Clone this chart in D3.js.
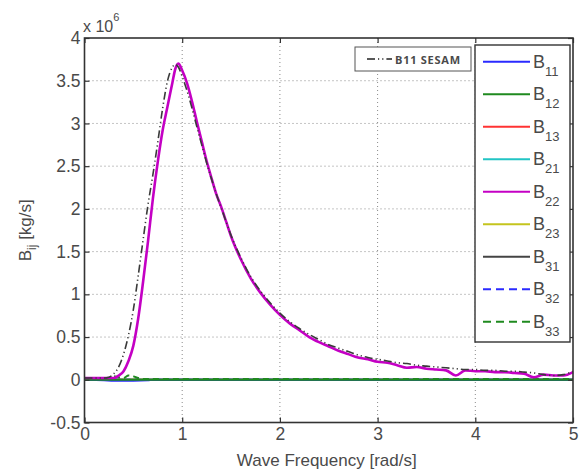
<!DOCTYPE html>
<html>
<head>
<meta charset="utf-8">
<script src="https://cdn.jsdelivr.net/npm/d3@7"></script>
<style>
  html, body { margin: 0; padding: 0; background: #fff; }
  svg { display: block; }
  text { font-family: "Liberation Sans", Arial, sans-serif; fill: #4a4a4a; }
</style>
</head>
<body>
<svg id="chart" width="584" height="471"></svg>
<script>
// Wave frequency grid [rad/s]
const freq = [0, 0.1, 0.2, 0.25, 0.3, 0.35, 0.4, 0.45, 0.5, 0.55,
  0.6, 0.65, 0.7, 0.75, 0.8, 0.85, 0.9, 0.93, 0.96, 1.0,
  1.05, 1.1, 1.15, 1.2, 1.25, 1.3, 1.35, 1.4, 1.45, 1.5,
  1.6, 1.7, 1.8, 1.9, 2.0, 2.1, 2.2, 2.3, 2.4, 2.5,
  2.6, 2.7, 2.8, 2.9, 3.0, 3.1, 3.2, 3.3, 3.4, 3.5,
  3.6, 3.7, 3.8, 3.9, 4.0, 4.1, 4.2, 4.3, 4.4, 4.5,
  4.6, 4.7, 4.8, 4.9, 5.0];

// Damping B22 (x 1e6 kg/s)
const b22 = [0.02, 0.02, 0.02, 0.02, 0.02, 0.05, 0.10, 0.22, 0.40, 0.72,
  1.15, 1.62, 2.12, 2.55, 2.92, 3.20, 3.48, 3.64, 3.70, 3.62,
  3.47, 3.26, 3.02, 2.79, 2.56, 2.36, 2.17, 2.02, 1.85, 1.68,
  1.41, 1.19, 1.02, 0.88, 0.76, 0.66, 0.58, 0.50, 0.44, 0.39,
  0.34, 0.30, 0.26, 0.24, 0.21, 0.20, 0.17, 0.14, 0.15, 0.13,
  0.12, 0.11, 0.05, 0.11, 0.10, 0.10, 0.09, 0.09, 0.08, 0.07,
  0.03, 0.06, 0.05, 0.05, 0.09];

// Reference damping B11 from SESAM (x 1e6 kg/s)
const b11Sesam = [0.02, 0.02, 0.02, 0.03, 0.07, 0.15, 0.30, 0.52, 0.82, 1.22,
  1.64, 2.05, 2.40, 2.78, 3.18, 3.50, 3.66, 3.69, 3.66, 3.55,
  3.38, 3.18, 2.96, 2.75, 2.54, 2.35, 2.17, 2.01, 1.85, 1.69,
  1.43, 1.21, 1.04, 0.90, 0.78, 0.68, 0.60, 0.53, 0.47, 0.41,
  0.37, 0.33, 0.29, 0.26, 0.24, 0.22, 0.20, 0.19, 0.17, 0.16,
  0.15, 0.14, 0.13, 0.12, 0.12, 0.11, 0.11, 0.10, 0.10, 0.09,
  0.08, 0.06, 0.05, 0.06, 0.10];

// Damping B33 (x 1e6 kg/s)
const b33 = [0.00, 0.01, 0.01, 0.02, 0.04, 0.03, 0.02, 0.05, 0.04, 0.02,
  0.01, 0.01, 0.01, 0.01, 0.01, 0.01, 0.01, 0.01, 0.01, 0.01,
  0.01, 0.01, 0.01, 0.01, 0.01, 0.01, 0.01, 0.01, 0.01, 0.01,
  0.01, 0.01, 0.01, 0.01, 0.01, 0.01, 0.01, 0.01, 0.01, 0.01,
  0.01, 0.01, 0.01, 0.01, 0.01, 0.01, 0.01, 0.01, 0.01, 0.01,
  0.01, 0.01, 0.01, 0.01, 0.01, 0.01, 0.01, 0.01, 0.01, 0.01,
  0.01, 0.01, 0.01, 0.01, 0.01];

// Coupling terms that stay at zero
const freqFlat = [0, 1, 2, 3, 4, 5];
const flatZero = [0, 0, 0, 0, 0, 0];

// Damping B11 (x 1e6 kg/s)
const freqB11 = [0, 0.2, 0.3, 0.5, 0.65, 0.7, 1, 2, 3, 4, 5];
const b11 = [0, -0.005, -0.01, -0.01, -0.005, 0, 0, 0, 0, 0, 0];

// Axis ticks
const xTicks = [0, 1, 2, 3, 4, 5];
const yTicks = [-0.5, 0, 0.5, 1, 1.5, 2, 2.5, 3, 3.5, 4];
const yTickLabels = ["-0.5", "0", "0.5", "1", "1.5", "2", "2.5", "3", "3.5", "4"];

// Series definitions (legend order)
const series = [
  { key: "11", x: freqB11, y: b11, color: "#2a2aff", dash: null },
  { key: "12", x: freqFlat, y: flatZero, color: "#1f8a1f", dash: null },
  { key: "13", x: freqFlat, y: flatZero, color: "#ff3333", dash: null },
  { key: "21", x: freqFlat, y: flatZero, color: "#22c4c4", dash: null },
  { key: "22", x: freq, y: b22, color: "#c400c4", dash: null },
  { key: "23", x: freqFlat, y: flatZero, color: "#c4c41e", dash: null },
  { key: "31", x: freqFlat, y: flatZero, color: "#444444", dash: null },
  { key: "32", x: freqFlat, y: flatZero, color: "#2a2aff", dash: "6,4" },
  { key: "33", x: freq, y: b33, color: "#1f8a1f", dash: "6,4" }
];
// Drawing order so that the zero-line greens and the main curve stay on top
const drawOrder = ["13", "21", "23", "31", "32", "11", "12", "33", "22"];

const svg = d3.select("#chart");
const mLeft = 84.5, mRight = 573, mTop = 38, mBottom = 422.5;

const x = d3.scaleLinear().domain([0, 5]).range([mLeft, mRight]);
const y = d3.scaleLinear().domain([-0.5, 4]).range([mBottom, mTop]);

// Dotted grid
const grid = svg.append("g");
grid.selectAll("line.gx").data(xTicks.slice(1, -1)).join("line")
  .attr("x1", d => x(d)).attr("x2", d => x(d))
  .attr("y1", mTop).attr("y2", mBottom)
  .attr("stroke", "#8a8a8a").attr("stroke-width", 1).attr("stroke-dasharray", "1,3");
grid.selectAll("line.gy").data(yTicks.slice(1, -1)).join("line")
  .attr("x1", mLeft).attr("x2", mRight)
  .attr("y1", d => y(d)).attr("y2", d => y(d))
  .attr("stroke", "#8a8a8a").attr("stroke-width", 1).attr("stroke-dasharray", "1,3");

// Curves
const plot = svg.append("g");
const lineGen = (s) => d3.line()
  .x((d, i) => x(s.x[i]))
  .y(d => y(d))
  .curve(d3.curveMonotoneX)(s.y);

drawOrder.forEach(k => {
  const s = series.find(d => d.key === k);
  plot.append("path")
    .attr("d", lineGen(s))
    .attr("fill", "none")
    .attr("stroke", s.color)
    .attr("stroke-width", k === "22" ? 2.6 : 2)
    .attr("stroke-dasharray", s.dash);
});

// SESAM reference curve (dash-dot-dot)
plot.append("path")
  .attr("d", d3.line().x((d, i) => x(freq[i])).y(d => y(d)).curve(d3.curveMonotoneX)(b11Sesam))
  .attr("fill", "none")
  .attr("stroke", "#3a3a3a")
  .attr("stroke-width", 1.6)
  .attr("stroke-dasharray", "8,3,1.2,3,1.2,3");

// Axes
const axisStyle = g => {
  g.select(".domain").remove();
  g.selectAll(".tick line").attr("stroke", "#333").attr("stroke-width", 1.2);
  g.selectAll(".tick text").style("font-family", "Liberation Sans, Arial, sans-serif")
    .style("font-size", "17.5px").attr("fill", "#555");
};

svg.append("g").attr("transform", `translate(0,${mBottom})`)
  .call(d3.axisBottom(x).tickValues(xTicks).tickSizeInner(-5).tickSizeOuter(0).tickPadding(5).tickFormat(d3.format("d")))
  .call(axisStyle);
svg.append("g").attr("transform", `translate(0,${mTop})`)
  .call(d3.axisTop(x).tickValues(xTicks).tickSizeInner(-5).tickSizeOuter(0).tickFormat(""))
  .call(axisStyle);
svg.append("g").attr("transform", `translate(${mLeft},0)`)
  .call(d3.axisLeft(y).tickValues(yTicks).tickSizeInner(-5).tickSizeOuter(0).tickPadding(4)
    .tickFormat((d, i) => yTickLabels[i]))
  .call(axisStyle);
svg.append("g").attr("transform", `translate(${mRight},0)`)
  .call(d3.axisRight(y).tickValues(yTicks).tickSizeInner(-5).tickSizeOuter(0).tickFormat(""))
  .call(axisStyle);

// Frame
svg.append("rect")
  .attr("x", mLeft).attr("y", mTop)
  .attr("width", mRight - mLeft).attr("height", mBottom - mTop)
  .attr("fill", "none").attr("stroke", "#333").attr("stroke-width", 1.6);

// Exponent label
const expo = svg.append("text").attr("x", 83).attr("y", 32).style("font-size", "16px").attr("fill", "#555");
expo.append("tspan").text("x 10");
expo.append("tspan").attr("dy", -11).style("font-size", "11px").text("6");

// Axis titles
svg.append("text")
  .attr("x", (mLeft + mRight) / 2 - 2).attr("y", 466)
  .attr("text-anchor", "middle").style("font-size", "17px").attr("fill", "#555")
  .text("Wave Frequency [rad/s]");

const ylab = svg.append("text")
  .attr("transform", `translate(31,${(mTop + mBottom) / 2}) rotate(-90)`)
  .attr("text-anchor", "middle").style("font-size", "17px").attr("fill", "#555");
ylab.append("tspan").text("B");
ylab.append("tspan").attr("dy", 5).style("font-size", "12px").text("ij");
ylab.append("tspan").attr("dy", -5).text(" [kg/s]");

// SESAM legend box
const sesam = svg.append("g");
sesam.append("rect").attr("x", 355).attr("y", 47).attr("width", 116).attr("height", 24)
  .attr("fill", "#fff").attr("stroke", "#555").attr("stroke-width", 1);
sesam.append("line").attr("x1", 367).attr("x2", 392).attr("y1", 59).attr("y2", 59)
  .attr("stroke", "#222").attr("stroke-width", 1.6).attr("stroke-dasharray", "8,3,1.2,3,1.2,3");
sesam.append("text").attr("x", 395).attr("y", 63.5)
  .style("font-family", "Open Sans, Lato, sans-serif").style("font-size", "11px").style("font-weight", "bold")
  .attr("fill", "#222").attr("textLength", 65).text("B11 SESAM");

// Main legend
const leg = svg.append("g");
leg.append("rect").attr("x", 475).attr("y", 45).attr("width", 95).attr("height", 297)
  .attr("fill", "#fff").attr("stroke", "#333").attr("stroke-width", 1.4);
const rowY = i => 61.7 + i * 32.5;
series.forEach((s, i) => {
  leg.append("line").attr("x1", 483).attr("x2", 530).attr("y1", rowY(i)).attr("y2", rowY(i))
    .attr("stroke", s.color).attr("stroke-width", 2).attr("stroke-dasharray", s.dash ? "8,5" : null);
  const t = leg.append("text").attr("x", 533).attr("y", rowY(i) + 6).style("font-size", "18px").attr("fill", "#555");
  t.append("tspan").text("B");
  t.append("tspan").attr("dy", 8).style("font-size", "13px").text(s.key);
});
</script>
</body>
</html>
